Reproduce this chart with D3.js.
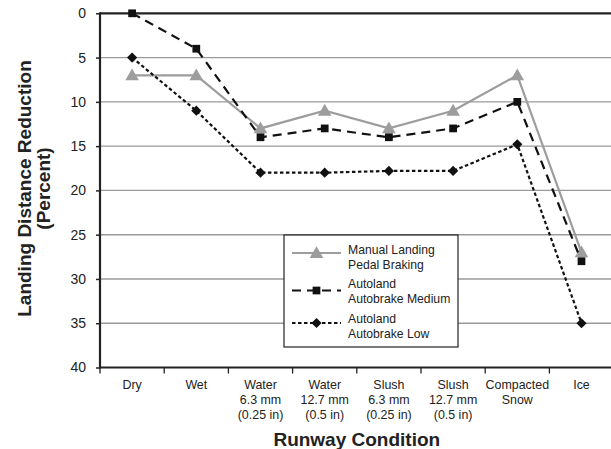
<!DOCTYPE html>
<html><head><meta charset="utf-8">
<script src="https://cdn.jsdelivr.net/npm/d3@7"></script>
<style>body{margin:0;background:#fff}svg{display:block}</style>
</head><body><svg id="c" width="611" height="449"></svg>
<script>
const categories = [
  ["Dry"], ["Wet"], ["Water","6.3 mm","(0.25 in)"], ["Water","12.7 mm","(0.5 in)"],
  ["Slush","6.3 mm","(0.25 in)"], ["Slush","12.7 mm","(0.5 in)"], ["Compacted","Snow"], ["Ice"]
];
const manualPedal = [7, 7, 13, 11, 13, 11, 7, 27];
const autobrakeMedium = [0, 4, 14, 13, 14, 13, 10, 28];
const autobrakeLow = [5, 11, 18, 18, 17.8, 17.8, 14.8, 35];
const yTicks = [0, 5, 10, 15, 20, 25, 30, 35, 40];
const seriesNames = [["Manual Landing","Pedal Braking"],["Autoland","Autobrake Medium"],["Autoland","Autobrake Low"]];

const svg = d3.select("#c");
const L = 100, R = 613.6, T = 13.3, B = 367.5;
const keys = categories.map((c,i)=>i);
const x = d3.scaleBand().domain(keys).range([L, R]);
const y = d3.scaleLinear().domain([0, 40]).range([T, B]);
const font = "Liberation Sans, Arial, sans-serif";

// grid
svg.append("g").selectAll("line").data(yTicks.filter(d=>d>0&&d<40)).join("line")
  .attr("x1", L).attr("x2", 611).attr("y1", d=>y(d)).attr("y2", d=>y(d))
  .attr("stroke", "#9a9a9a").attr("stroke-width", 1.4);

// y axis
const ya = svg.append("g").attr("transform", `translate(${L},0)`)
  .call(d3.axisLeft(y).tickValues(yTicks).tickSize(4).tickPadding(10));
ya.select(".domain").remove();
ya.selectAll(".tick line").attr("stroke", "#222").attr("stroke-width", 1.5);
ya.selectAll("text").attr("font-family", font).attr("font-size", 14).attr("fill", "#222");

// x axis ticks at band boundaries
svg.append("g").selectAll("line").data(keys).join("line")
  .attr("x1", d=>x(d)).attr("x2", d=>x(d)).attr("y1", B).attr("y2", B+6)
  .attr("stroke", "#222").attr("stroke-width", 1.3);

// frame lines
svg.append("line").attr("x1", L).attr("x2", 611).attr("y1", T).attr("y2", T).attr("stroke", "#222").attr("stroke-width", 2.2);
svg.append("line").attr("x1", L).attr("x2", 611).attr("y1", B).attr("y2", B).attr("stroke", "#222").attr("stroke-width", 2.2);
svg.append("line").attr("x1", L).attr("x2", L).attr("y1", T-1).attr("y2", B+1).attr("stroke", "#222").attr("stroke-width", 2.2);

// x labels (condensed), one text per line
const xl = svg.append("g");
categories.forEach((lines, i) => {
  lines.forEach((s, j) => xl.append("text").attr("text-anchor", "middle").attr("font-family", font)
    .attr("font-size", 13.5).attr("fill", "#222")
    .attr("transform", `translate(${x(i) + x.bandwidth()/2},${389 + j * 15}) scale(0.92,1)`)
    .text(s));
});

// axis titles
svg.append("text").attr("x", (L + R) / 2).attr("y", 446).attr("text-anchor", "middle")
  .attr("font-family", font).attr("font-weight", "bold")
  .attr("font-size", 19).attr("fill", "#222").text("Runway Condition");
["Landing Distance Reduction", "(Percent)"].forEach((s, j) =>
  svg.append("text").attr("transform", `translate(${31 + j * 18.5},188.5) rotate(-90)`).attr("text-anchor", "middle")
    .attr("font-family", font).attr("font-weight", "bold")
    .attr("font-size", 19).attr("fill", "#222").text(s));

// series
const cx = i => x(i) + x.bandwidth()/2;
const line = d3.line().x((d,i)=>cx(i)).y(d=>y(d));
const tri = d3.symbol().type(d3.symbolTriangle).size(80);
const sq = d3.symbol().type(d3.symbolSquare).size(60);
const dia = d3.symbol().type(d3.symbolSquare).size(52);
const styles = [
  {data: manualPedal, color: "#9d9d9d", dash: null, sym: tri, rot: 0, dy: 1},
  {data: autobrakeMedium, color: "#111", dash: "9,6", sym: sq, rot: 0, dy: 0},
  {data: autobrakeLow, color: "#111", dash: "3.5,2.5", sym: dia, rot: 45, dy: 0}
];
styles.forEach(s => {
  svg.append("path").datum(s.data).attr("d", line).attr("fill", "none")
    .attr("stroke", s.color).attr("stroke-width", 2.2).attr("stroke-dasharray", s.dash);
  svg.append("g").selectAll("path").data(s.data).join("path")
    .attr("transform", (d,i)=>`translate(${cx(i)},${y(d) + s.dy}) rotate(${s.rot})`)
    .attr("d", s.sym).attr("fill", s.color);
});

// legend
const lg = svg.append("g");
lg.append("rect").attr("x", 284).attr("y", 235).attr("width", 174).attr("height", 112)
  .attr("fill", "#fff").attr("stroke", "#222").attr("stroke-width", 1.2);
const ly = [253, 290.5, 323];
const lt = [254, 288, 323];
styles.forEach((s, k) => {
  lg.append("line").attr("x1", 292).attr("x2", 341).attr("y1", ly[k]).attr("y2", ly[k])
    .attr("stroke", s.color).attr("stroke-width", 2.2).attr("stroke-dasharray", s.dash);
  lg.append("path").attr("transform", `translate(316.5,${ly[k] + s.dy}) rotate(${s.rot})`)
    .attr("d", s.sym).attr("fill", s.color);
  seriesNames[k].forEach((n, j) => lg.append("text").attr("font-family", font).attr("font-size", 12.2)
    .attr("fill", "#222").attr("x", 348).attr("y", lt[k] + j * 14.5).text(n));
});
</script></body></html>
